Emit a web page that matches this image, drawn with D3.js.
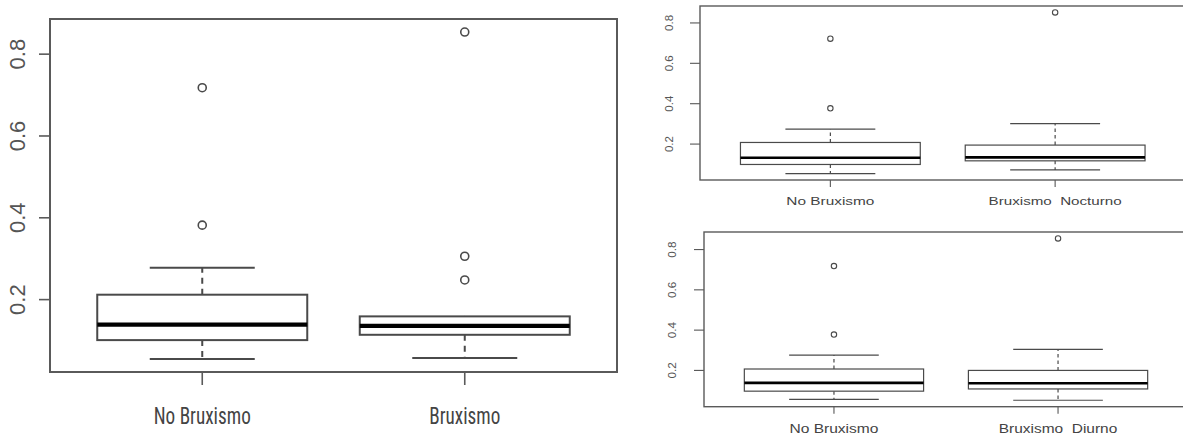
<!DOCTYPE html>
<html>
<head>
<meta charset="utf-8">
<script src="https://cdn.jsdelivr.net/npm/d3@7/dist/d3.min.js"></script>
<style>
  html, body { margin: 0; padding: 0; background: #fff; }
  svg { display: block; }
</style>
</head>
<body>
<svg id="chart" width="1183" height="435"></svg>
<script>
// ---- data ----
const yTicks = [0.2, 0.4, 0.6, 0.8];

// stats per group: [lower whisker, Q1, median, Q3, upper whisker]
const mainCats = ["No Bruxismo", "Bruxismo"];
const mainStats = [[0.055, 0.101, 0.139, 0.212, 0.278], [0.057, 0.114, 0.136, 0.159, 0.159]];
const mainOut = [[0.382, 0.718], [0.248, 0.306, 0.854]];

const noctCats = ["No Bruxismo", "Bruxismo  Nocturno"];
const noctStats = [[0.054, 0.099, 0.132, 0.208, 0.274], [0.072, 0.117, 0.134, 0.195, 0.301]];
const noctOut = [[0.377, 0.722], [0.852]];

const diurCats = ["No Bruxismo", "Bruxismo  Diurno"];
const diurStats = [[0.056, 0.097, 0.138, 0.207, 0.276], [0.052, 0.108, 0.136, 0.200, 0.304]];
const diurOut = [[0.378, 0.718], [0.855]];

// ---- layout / style per panel ----
const panels = [
  { cats: mainCats, stats: mainStats, out: mainOut,
    x0: 50, x1: 617, y0: 19, y1: 372,
    lw: 2, medW: 4.2, frameW: 2, r: 4, ptW: 1.6,
    tickLen: 11, xTickLen: 13, tickFont: 22, tickOff: 25,
    catFont: 23, catBase: 52, catFamily: "'Liberation Sans Narrow', 'Roboto Condensed', 'Liberation Sans', Arial, sans-serif",
    catWidths: [97, 71], dash: "6,5" },
  { cats: noctCats, stats: noctStats, out: noctOut,
    x0: 700, x1: 1185.5, y0: 6, y1: 180,
    lw: 1.2, medW: 2.6, frameW: 1.4, r: 2.7, ptW: 1.1,
    tickLen: 10, xTickLen: 7, tickFont: 11.5, tickOff: 27,
    catFont: 11.8, catBase: 25, catFamily: "'Liberation Sans', Arial, sans-serif",
    catWidths: [88, 133], dash: "3.5,3" },
  { cats: diurCats, stats: diurStats, out: diurOut,
    x0: 704, x1: 1188, y0: 232, y1: 406.7,
    lw: 1.2, medW: 2.6, frameW: 1.4, r: 2.7, ptW: 1.1,
    tickLen: 10, xTickLen: 7, tickFont: 11.8, tickOff: 28,
    catFont: 12, catBase: 26.5, catFamily: "'Liberation Sans', Arial, sans-serif",
    catWidths: [89, 118.5], dash: "3.5,3" }
];

const lineCol = "#4a4a4a";
const frameCol = "#5a5a5a";
const textCol = "#555";

const svg = d3.select("#chart");

panels.forEach(p => {
  const g = svg.append("g");
  // R-style limits: data range extended by 4 %
  const all = p.stats.flat().concat(p.out.flat());
  const [mn, mx] = d3.extent(all);
  const pad = (mx - mn) * 0.04;
  const y = d3.scaleLinear().domain([mn - pad, mx + pad]).range([p.y1, p.y0]);
  const n = p.cats.length;
  const x = d3.scaleLinear().domain([0.5 - 0.08, n + 0.5 + 0.08]).range([p.x0, p.x1]);

  const groups = p.stats.map((s, i) => ({ i: i + 1, s, out: p.out[i], cat: p.cats[i], w: p.catWidths[i] }));

  const box = g.selectAll("g.box").data(groups).join("g").attr("class", "box");

  // whiskers (dashed)
  box.append("line")
    .attr("x1", d => x(d.i)).attr("x2", d => x(d.i))
    .attr("y1", d => y(d.s[3])).attr("y2", d => y(d.s[4]))
    .attr("stroke", lineCol).attr("stroke-width", p.lw).attr("stroke-dasharray", p.dash);
  box.append("line")
    .attr("x1", d => x(d.i)).attr("x2", d => x(d.i))
    .attr("y1", d => y(d.s[1])).attr("y2", d => y(d.s[0]))
    .attr("stroke", lineCol).attr("stroke-width", p.lw).attr("stroke-dasharray", p.dash);
  // staples
  [0, 4].forEach(k => {
    box.filter(d => k === 0 || d.s[4] > d.s[3]).append("line")
      .attr("x1", d => x(d.i - 0.2)).attr("x2", d => x(d.i + 0.2))
      .attr("y1", d => y(d.s[k])).attr("y2", d => y(d.s[k]))
      .attr("stroke", lineCol).attr("stroke-width", p.lw);
  });
  // box
  box.append("rect")
    .attr("x", d => x(d.i - 0.4)).attr("width", d => x(d.i + 0.4) - x(d.i - 0.4))
    .attr("y", d => y(d.s[3])).attr("height", d => y(d.s[1]) - y(d.s[3]))
    .attr("fill", "#fff").attr("stroke", lineCol).attr("stroke-width", p.lw);
  // median
  box.append("line")
    .attr("x1", d => x(d.i - 0.4)).attr("x2", d => x(d.i + 0.4))
    .attr("y1", d => y(d.s[2])).attr("y2", d => y(d.s[2]))
    .attr("stroke", "#000").attr("stroke-width", p.medW);
  // outliers
  box.selectAll("circle").data(d => d.out.map(v => ({ i: d.i, v }))).join("circle")
    .attr("cx", d => x(d.i)).attr("cy", d => y(d.v)).attr("r", p.r)
    .attr("fill", "none").attr("stroke", lineCol).attr("stroke-width", p.ptW);

  // frame
  g.append("rect")
    .attr("x", p.x0).attr("y", p.y0)
    .attr("width", p.x1 - p.x0).attr("height", p.y1 - p.y0)
    .attr("fill", "none").attr("stroke", frameCol).attr("stroke-width", p.frameW);

  // y ticks
  const yt = g.selectAll("g.yt").data(yTicks).join("g").attr("class", "yt");
  yt.append("line")
    .attr("x1", p.x0 - p.tickLen).attr("x2", p.x0)
    .attr("y1", d => y(d)).attr("y2", d => y(d))
    .attr("stroke", frameCol).attr("stroke-width", p.frameW * 0.8);
  yt.append("text")
    .attr("transform", d => `translate(${p.x0 - p.tickOff},${y(d)}) rotate(-90)`)
    .attr("text-anchor", "middle")
    .attr("font-family", "'Liberation Sans', Arial, sans-serif")
    .attr("font-size", p.tickFont)
    .attr("fill", textCol)
    .text(d => d3.format(".1f")(d));

  // x ticks and category labels
  const xt = g.selectAll("g.xt").data(groups).join("g").attr("class", "xt");
  xt.append("line")
    .attr("x1", d => x(d.i)).attr("x2", d => x(d.i))
    .attr("y1", p.y1).attr("y2", p.y1 + p.xTickLen)
    .attr("stroke", frameCol).attr("stroke-width", p.frameW * 0.8);
  xt.append("text")
    .attr("x", d => x(d.i) - d.w / 2)
    .attr("y", p.y1 + p.catBase)
    .attr("font-family", p.catFamily)
    .attr("font-size", p.catFont)
    .attr("fill", "#444")
    .attr("textLength", d => d.w)
    .attr("lengthAdjust", "spacingAndGlyphs")
    .style("white-space", "pre")
    .text(d => d.cat);
});
</script>
</body>
</html>
